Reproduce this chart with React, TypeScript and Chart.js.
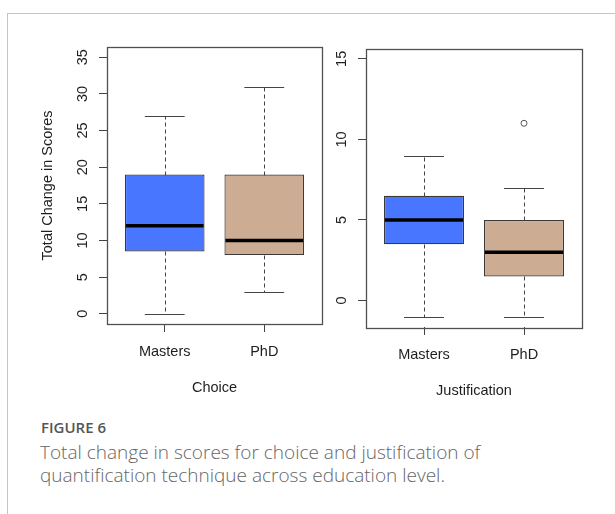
import React, { useEffect, useRef } from 'react';
import { Chart, registerables } from 'chart.js';

Chart.register(...registerables);

// ---------- data ----------
const categories = ['Masters', 'PhD'];
const boxColors = ['#4876FF', '#CCAC93'];

const choiceLow = [0, 3];
const choiceQ1 = [8.5, 8];
const choiceMedian = [12, 10];
const choiceQ3 = [19, 19];
const choiceHigh = [27, 31];
const choiceOutliers: number[][] = [[], []];
const choiceTicks = [0, 5, 10, 15, 20, 25, 30, 35];

const justLow = [-1, -1];
const justQ1 = [3.5, 1.5];
const justMedian = [5, 3];
const justQ3 = [6.5, 5];
const justHigh = [9, 7];
const justOutliers: number[][] = [[], [11]];
const justTicks = [0, 5, 10, 15];

const FONT = { family: '"Liberation Sans", Arial, sans-serif', size: 14.5 };
const TEXT = '#1e1e1e';
const LINE = '#444';

type PanelProps = {
  low: number[]; q1: number[]; median: number[]; q3: number[]; high: number[];
  outliers: number[][]; ticks: number[]; yMin: number; yMax: number;
  xTitle: string; yTitle?: string;
  left: number; top: number; width: number; height: number;
  padTop: number; padRight: number; yAxisW: number; xAxisH: number; xTitlePadBottom: number;
};

function BoxPanel(p: PanelProps) {
  const ref = useRef<HTMLCanvasElement | null>(null);
  useEffect(() => {
    if (!ref.current) return;
    const whiskers = {
      id: 'whiskers',
      afterDatasetsDraw(chart: any) {
        const { ctx, chartArea, scales } = chart;
        const x = scales.x, y = scales.y;
        const seg = (x1: number, y1: number, x2: number, y2: number) => {
          ctx.beginPath(); ctx.moveTo(x1, y1); ctx.lineTo(x2, y2); ctx.stroke();
        };
        ctx.save();
        for (let i = 0; i < categories.length; i++) {
          const pos = i + 1;
          const cx = Math.round(x.getPixelForValue(pos)) + 0.5;
          const capL = x.getPixelForValue(pos - 0.2);
          const capR = x.getPixelForValue(pos + 0.2);
          const boxL = x.getPixelForValue(pos - 0.4);
          const boxR = x.getPixelForValue(pos + 0.4);
          const py = (v: number) => Math.round(y.getPixelForValue(v)) + 0.5;
          ctx.strokeStyle = LINE; ctx.lineWidth = 1;
          ctx.setLineDash([4, 3]);
          seg(cx, py(p.q3[i]), cx, py(p.high[i]));
          seg(cx, py(p.q1[i]), cx, py(p.low[i]));
          ctx.setLineDash([]);
          seg(capL, py(p.high[i]), capR, py(p.high[i]));
          seg(capL, py(p.low[i]), capR, py(p.low[i]));
          ctx.strokeStyle = '#000'; ctx.lineWidth = 3.5; ctx.lineCap = 'butt';
          const my = y.getPixelForValue(p.median[i]);
          seg(boxL + 1, my, boxR - 1, my);
        }
        ctx.strokeStyle = '#505050'; ctx.lineWidth = 1.3;
        ctx.strokeRect(Math.round(chartArea.left) + 0.5, Math.round(chartArea.top) + 0.5,
          Math.round(chartArea.right - chartArea.left), Math.round(chartArea.bottom - chartArea.top));
        ctx.restore();
      },
    };
    const outlierPts: { x: number; y: number }[] = [];
    p.outliers.forEach((arr, i) => arr.forEach((v) => outlierPts.push({ x: i + 1, y: v })));
    const chart = new Chart(ref.current, {
      type: 'bar',
      data: {
        datasets: [
          {
            type: 'bar',
            data: categories.map((_, i) => ({ x: i + 1, y: [p.q1[i], p.q3[i]] })) as any,
            backgroundColor: boxColors,
            borderColor: '#3a3a3a',
            borderWidth: 1.2,
            borderSkipped: false,
            barPercentage: 1,
            categoryPercentage: 0.8,
          },
          {
            type: 'scatter',
            data: outlierPts as any,
            pointStyle: 'circle',
            pointRadius: 3,
            borderColor: '#555',
            backgroundColor: 'rgba(0,0,0,0)',
            borderWidth: 1,
          } as any,
        ],
      },
      options: {
        animation: false,
        responsive: false,
        events: [],
        layout: { padding: { left: 0, top: p.padTop, right: p.padRight, bottom: 0 } },
        plugins: { legend: { display: false }, tooltip: { enabled: false } },
        scales: {
          x: {
            type: 'linear',
            min: 0.42,
            max: 2.58,
            offset: false,
            afterBuildTicks: (s: any) => { s.ticks = categories.map((_, i) => ({ value: i + 1 })); },
            afterFit: (s: any) => { s.height = p.xAxisH; },
            grid: { display: true, offset: false, drawOnChartArea: false, drawTicks: true, tickLength: 8, color: LINE, lineWidth: 1 },
            border: { display: false },
            ticks: {
              autoSkip: false, maxRotation: 0, padding: 11, font: FONT, color: TEXT, includeBounds: false,
              callback: (v: any) => categories[Math.round(Number(v)) - 1],
            },
            title: { display: true, text: p.xTitle, font: FONT, color: TEXT, padding: { top: 0, bottom: p.xTitlePadBottom } },
          },
          y: {
            type: 'linear',
            min: p.yMin,
            max: p.yMax,
            afterBuildTicks: (s: any) => { s.ticks = p.ticks.map((v) => ({ value: v })); },
            afterFit: (s: any) => { s.width = p.yAxisW; },
            grid: { display: true, drawOnChartArea: false, drawTicks: true, tickLength: 8, color: LINE, lineWidth: 1 },
            border: { display: false },
            ticks: { minRotation: 90, maxRotation: 90, crossAlign: 'center', padding: 8, font: FONT, color: TEXT },
            title: { display: !!p.yTitle, text: p.yTitle || '', font: FONT, color: TEXT, padding: { top: 9, bottom: 0 } },
          },
        },
      } as any,
      plugins: [whiskers],
    });
    return () => chart.destroy();
  }, []);
  return (
    <canvas
      ref={ref}
      width={p.width}
      height={p.height}
      style={{ position: 'absolute', left: p.left, top: p.top, width: p.width, height: p.height }}
    />
  );
}

export default function App() {
  return (
    <div style={{ position: 'absolute', left: 0, top: 0, width: 615, height: 514, background: '#fff', overflow: 'hidden' }}>
      <div style={{ position: 'absolute', left: 7, top: 13, width: 620, height: 520, borderTop: '1px solid #c4c4c4', borderLeft: '1px solid #c4c4c4' }} />
      <BoxPanel
        low={choiceLow} q1={choiceQ1} median={choiceMedian} q3={choiceQ3} high={choiceHigh}
        outliers={choiceOutliers} ticks={choiceTicks} yMin={-1.4} yMax={36.4}
        xTitle="Choice" yTitle="Total Change in Scores"
        left={30} top={30} width={300} height={370}
        padTop={17} padRight={8} yAxisW={77} xAxisH={76} xTitlePadBottom={3.3}
      />
      <BoxPanel
        low={justLow} q1={justQ1} median={justMedian} q3={justQ3} high={justHigh}
        outliers={justOutliers} ticks={justTicks} yMin={-1.64} yMax={15.64}
        xTitle="Justification"
        left={330} top={30} width={285} height={370}
        padTop={18.5} padRight={33} yAxisW={36} xAxisH={73} xTitlePadBottom={0.3}
      />
      <div style={{ position: 'absolute', left: 41, top: 420, fontFamily: '"Open Sans", sans-serif', fontWeight: 600, fontSize: 15, lineHeight: '15px', color: '#555', whiteSpace: 'nowrap' }}>
        FIGURE 6
      </div>
      <div style={{ position: 'absolute', left: 40, top: 441, fontFamily: '"Open Sans", sans-serif', fontWeight: 300, fontSize: 19, lineHeight: '23.3px', color: '#666', whiteSpace: 'nowrap' }}>
        Total change in scores for choice and justification of
        <br />
        quantification technique across education level.
      </div>
    </div>
  );
}
